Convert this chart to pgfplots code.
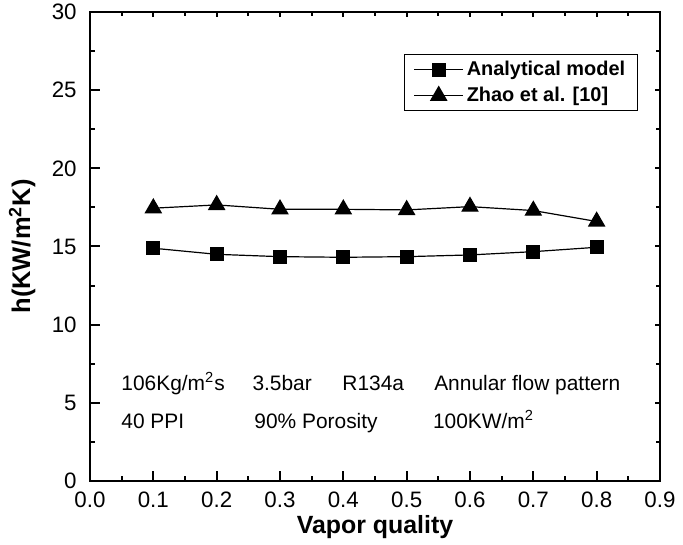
\documentclass[border=0pt]{standalone}
\usepackage{fontspec}
\setmainfont{Liberation Sans}
\usepackage{pgfplots}
\pgfplotsset{compat=1.18}
\begin{document}
\begin{tikzpicture}[x=1bp,y=1bp]
\path[use as bounding box] (0,0) rectangle (341.5,272.5);
\begin{axis}[
  at={(45bp,32bp)}, anchor=south west,
  scale only axis, width=285bp, height=234.5bp,
  xmin=0, xmax=0.9, ymin=0, ymax=30,
  xtick={0,0.1,0.2,0.3,0.4,0.5,0.6,0.7,0.8,0.9},
  ytick={0,5,10,15,20,25,30},
  minor x tick num=1, minor y tick num=1,
  tick align=inside, xtick pos=bottom, ytick pos=left,
  major tick length=5bp, minor tick length=2.5bp,
  axis line style={line width=1.25bp},
  every tick/.style={line width=1bp, black},
  /pgf/number format/assume math mode=true,
  xticklabel={\pgfmathprintnumber[fixed,fixed zerofill,precision=1]{\tick}},
  ticklabel style={font=\fontsize{11.2}{13}\selectfont},
  xticklabel style={anchor=base, inner sep=0pt, yshift=-13.5bp},
  yticklabel style={anchor=east, inner sep=0pt, xshift=-6.5bp},
  xlabel={Vapor quality},
  xlabel style={at={(axis description cs:0.5,0)}, anchor=base, yshift=-26bp, inner sep=0pt, font=\fontsize{12.5}{14}\selectfont\bfseries},
  ylabel={h(KW/m\textsuperscript{2}K)},
  ylabel style={at={(axis description cs:-0.119,0.5)}, anchor=center, inner sep=0pt, font=\fontsize{12.8}{14}\selectfont\bfseries},
  legend style={at={(axis description cs:0.961,0.910)}, anchor=north east, draw=black, line width=0.6bp,
    font=\fontsize{10}{12}\selectfont\bfseries, cells={anchor=west},
    inner xsep=4.5bp, inner ysep=0.8bp, row sep=0bp, nodes={inner xsep=1.5bp, inner ysep=2.2bp}},
  legend image code/.code={\draw[#1, mark repeat=2, mark phase=2] plot coordinates {(0bp,0bp) (12.25bp,0bp) (24.5bp,0bp)};},
]
\addplot[black, line width=0.6bp, mark=square*, mark size=3.2bp, mark options={solid}] coordinates {
 (0.1,14.89) (0.2,14.50) (0.3,14.35) (0.4,14.31) (0.5,14.35) (0.6,14.46) (0.7,14.67) (0.8,14.95)};
\addlegendentry{Analytical model}
\addplot[black, line width=0.6bp, mark=triangle*, mark size=4.5bp, mark options={solid}] coordinates {
 (0.1,17.45) (0.2,17.66) (0.3,17.38) (0.4,17.38) (0.5,17.34) (0.6,17.55) (0.7,17.30) (0.8,16.60)};
\addlegendentry{Zhao et al. [10]}
\node[anchor=base west, inner sep=0pt, font=\fontsize{10.5}{12}\selectfont] at (axis cs:0.049,5.77) {106Kg/m\textsuperscript{2}s};
\node[anchor=base west, inner sep=0pt, font=\fontsize{10.5}{12}\selectfont] at (axis cs:0.256,5.77) {3.5bar};
\node[anchor=base west, inner sep=0pt, font=\fontsize{10.5}{12}\selectfont] at (axis cs:0.398,5.77) {R134a};
\node[anchor=base west, inner sep=0pt, font=\fontsize{10.5}{12}\selectfont] at (axis cs:0.543,5.77) {Annular flow pattern};
\node[anchor=base west, inner sep=0pt, font=\fontsize{10.5}{12}\selectfont] at (axis cs:0.049,3.38) {40 PPI};
\node[anchor=base west, inner sep=0pt, font=\fontsize{10.5}{12}\selectfont] at (axis cs:0.259,3.38) {90\% Porosity};
\node[anchor=base west, inner sep=0pt, font=\fontsize{10.5}{12}\selectfont] at (axis cs:0.541,3.38) {100KW/m\textsuperscript{2}};
\end{axis}
\begin{axis}[
  at={(45bp,32bp)}, anchor=south west,
  scale only axis, width=285bp, height=234.5bp,
  xmin=0, xmax=0.9, ymin=0, ymax=30,
  xtick={0,0.1,0.2,0.3,0.4,0.5,0.6,0.7,0.8,0.9},
  ytick={0,5,10,15,20,25,30},
  minor x tick num=1, minor y tick num=1,
  tick align=inside, xtick pos=top, ytick pos=right,
  major tick length=2.5bp, minor tick length=2bp,
  axis line style={line width=1.25bp},
  every tick/.style={line width=1bp, black},
  xticklabels={}, yticklabels={},
]
\end{axis}
\end{tikzpicture}
\end{document}
